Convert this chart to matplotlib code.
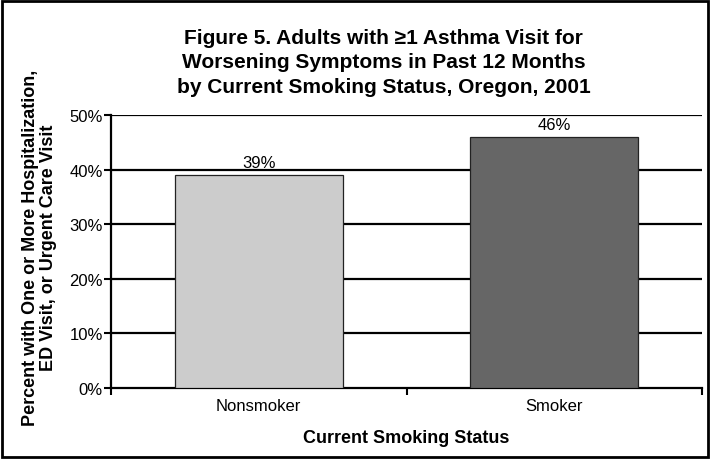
import matplotlib
matplotlib.use("Agg")
import matplotlib.pyplot as plt
from matplotlib.patches import Rectangle

plt.rcParams['font.family'] = ['Liberation Sans', 'DejaVu Sans']

categories = ["Nonsmoker", "Smoker"]
values = [39, 46]
value_labels = ["39%", "46%"]
yticks = [0, 10, 20, 30, 40, 50]
ytick_labels = ["0%", "10%", "20%", "30%", "40%", "50%"]
colors = ["#cccccc", "#666666"]

fig = plt.figure(figsize=(7.1, 4.6), dpi=100)
ax = fig.add_axes([111/710, 1-389/460, (702-111)/710, (389-116)/460])

x = list(range(len(categories)))
ax.bar(x, values, width=0.57, color=colors, edgecolor="#222222", linewidth=0.9, zorder=3)
for xi, v, lab in zip(x, values, value_labels):
    ax.annotate(lab, (xi, v), xytext=(0, 3.5), textcoords="offset points",
                ha="center", va="bottom", fontsize=12, zorder=4)

ax.set_xlim(-0.5, 1.5)
ax.set_ylim(0, 50)
ax.set_yticks(yticks)
ax.set_yticklabels(ytick_labels, fontsize=12)
for t in yticks[1:]:
    ax.axhline(t, color="black", linewidth=1.6, zorder=1)

ax.set_xticks(x)
ax.set_xticklabels(categories, fontsize=12)
ax.tick_params(axis="x", which="major", length=0, pad=7)
ax.set_xticks([-0.5, 0.5, 1.5], minor=True)
ax.tick_params(axis="x", which="minor", length=5, width=1.5, direction="out")
ax.tick_params(axis="y", length=5, width=1.5, direction="out", pad=1)

for s in ["top", "right"]:
    ax.spines[s].set_visible(False)
ax.spines["left"].set_linewidth(1.6)
ax.spines["bottom"].set_linewidth(1.6)

ax.set_xlabel("Current Smoking Status", fontsize=13, fontweight="bold", labelpad=12)
fig.text(0.056, 1 - 248/460, "Percent with One or More Hospitalization,\nED Visit, or Urgent Care Visit",
         rotation=90, ha="center", va="center", fontsize=13, fontweight="bold", linespacing=1.08)

fig.text(0.54, 1-63/460, "Figure 5. Adults with \u22651 Asthma Visit for\nWorsening Symptoms in Past 12 Months\nby Current Smoking Status, Oregon, 2001",
         ha="center", va="center", fontsize=15, fontweight="bold", linespacing=1.37)

fig.patches.append(Rectangle((2/710, 2/460), 706/710, 456/460, transform=fig.transFigure,
                             fill=False, edgecolor="black", linewidth=2))

fig.savefig("out.png", dpi=100)
